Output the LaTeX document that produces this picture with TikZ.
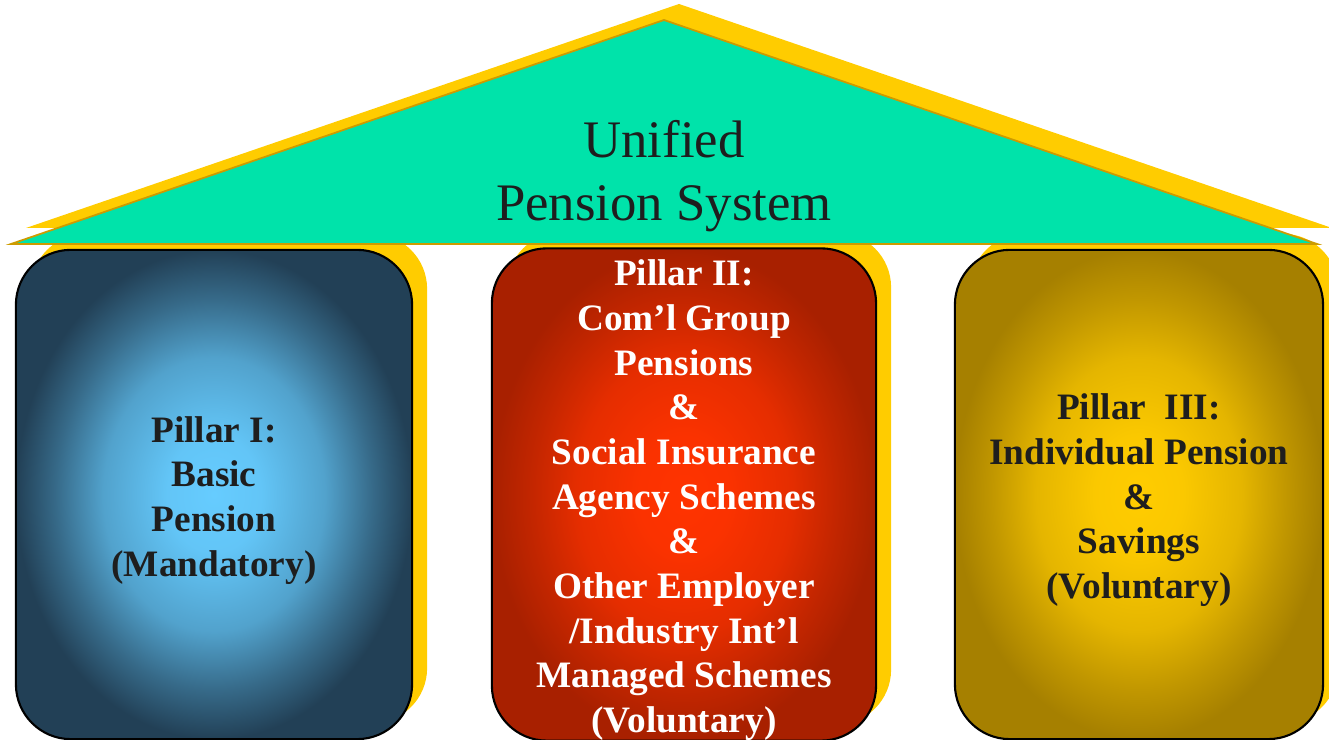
\documentclass[tikz,border=0pt]{standalone}
\usepackage{fontspec}
\setmainfont{Liberation Serif}
\usepackage{xcolor}
\usepackage{tikz}
\usetikzlibrary{calc}
\usetikzlibrary{shadows}

\definecolor{roofgreen}{RGB}{0,227,170}
\definecolor{roofgold}{RGB}{255,204,0}
\definecolor{rimgold}{RGB}{205,155,0}
\definecolor{inkdark}{RGB}{30,30,30}
\definecolor{blueIn}{RGB}{102,204,255}
\definecolor{blueOut}{RGB}{34,64,86}
\definecolor{redIn}{RGB}{255,51,0}
\definecolor{redOut}{RGB}{168,32,0}
\definecolor{goldIn}{RGB}{255,204,0}
\definecolor{goldOut}{RGB}{166,128,0}

\newcommand{\pillarshading}[3]{%
  \pgfdeclareradialshading{#1}{\pgfpoint{0bp}{0bp}}{%
    color(0bp)=(#2); color(6bp)=(#2!95!#3); color(14bp)=(#2!70!#3);
    color(20bp)=(#2!30!#3); color(25bp)=(#3); color(50bp)=(#3)}}
\pillarshading{pillarIshade}{blueIn}{blueOut}
\pillarshading{pillarIIshade}{redIn}{redOut}
\pillarshading{pillarIIIshade}{goldIn}{goldOut}
\newcommand{\topgap}{\rule{0pt}{10.7pt}}

\tikzset{
  goldshadow/.style={general shadow={fill=roofgold, shadow xshift=0.15cm, shadow yshift=0.16cm}},
  roof/.style={fill=roofgreen, draw=rimgold, line width=0.5pt, goldshadow},
  rooftext/.style={align=center, inner sep=0pt, text=inkdark, font=\fontsize{15}{18}\selectfont},
  pillar/.style={draw=black, line width=0.6pt, rounded corners=0.55cm, minimum width=#1,
    minimum height=4.89cm, inner sep=0pt, align=center,
    font=\fontsize{10.6}{12.7}\selectfont\bfseries, goldshadow}
}

\begin{document}
\begin{tikzpicture}[x=0.01cm, y=-0.01cm]
        \useasboundingbox (0,0) rectangle (1329,740);
        %PILLARS
        \node[pillar=3.96cm, shading=pillarIshade, text=inkdark] (pillarI) at (214,494.5)
            {\topgap Pillar I:\\Basic\\Pension\\(Mandatory)};
        \node[pillar=3.84cm, shading=pillarIIshade, text=white] (pillarII) at (684,494.5)
            {\topgap Pillar II:\\Com’l Group\\Pensions\\\&\\Social Insurance\\Agency Schemes\\\&\\Other Employer\\/Industry Int’l\\Managed Schemes\\(Voluntary)};
        \node[pillar=3.68cm, shading=pillarIIIshade, text=inkdark] (pillarIII) at (1139,494.5)
            {\topgap Pillar\ \ III:\\Individual Pension\\\&\\Savings\\(Voluntary)};
        %ROOF
        \coordinate (eaveL) at (11,244);
        \coordinate (ridge) at (664,20);
        \coordinate (eaveR) at (1317,244);
        \draw[roof] (eaveL) -- (ridge) -- (eaveR) -- cycle;
        \node[rooftext] (roofname) at (664,176) {Unified\\Pension System};
    \end{tikzpicture}
\end{document}
